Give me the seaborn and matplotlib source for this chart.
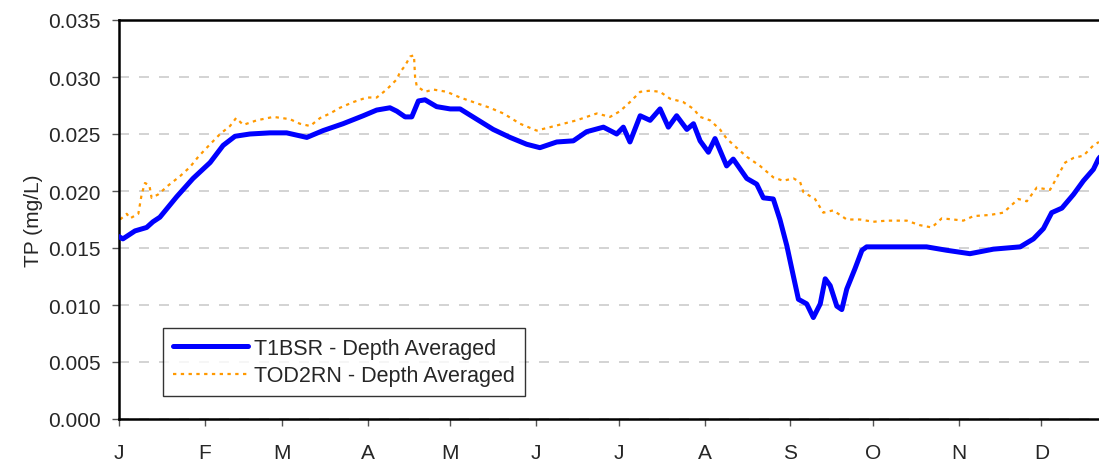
import matplotlib
matplotlib.use("Agg")
import matplotlib.pyplot as plt
import seaborn as sns
import pandas as pd
from matplotlib.ticker import FormatStrFormatter

sns.set_style("white")
plt.rcParams['font.family'] = ['Liberation Sans', 'DejaVu Sans']

# day of year / TP (mg/L)
t1bsr_day = [0, 1.4, 5.8, 10, 12.3, 14.8, 20.9, 26.8, 33, 37.7, 42, 47.4, 54.7, 60.7, 68, 73.9,
             81.1, 88.4, 93.3, 98.1, 100.6, 103.6, 106, 108.4, 110.8, 115, 119.9, 123.5, 129.5,
             135.5, 141.6, 147.6, 152.4, 158.5, 164.5, 169.3, 175.4, 180.2, 182.6, 185, 188.7,
             192.3, 195.9, 198.9, 201.9, 205.6, 208, 210.4, 213.4, 215.8, 220, 222.4, 227.3,
             230.9, 233.3, 236.9, 239.3, 241.8, 244.2, 246, 249, 251.4, 253.9, 255.7, 257.5,
             259.9, 261.7, 263.5, 266.5, 269, 270.7, 280.4, 292.4, 299.7, 308.1, 316.6, 326.3,
             331.1, 334.7, 337.7, 341.4, 345.6, 349.2, 352.8, 354.6, 356.5]
t1bsr_tp = [0.0160, 0.0158, 0.0165, 0.0168, 0.0173, 0.0177, 0.0195, 0.0211, 0.0225, 0.0240,
            0.0248, 0.0250, 0.0251, 0.0251, 0.0247, 0.0253, 0.0259, 0.0266, 0.0271, 0.0273,
            0.0270, 0.0265, 0.0265, 0.0279, 0.0280, 0.0274, 0.0272, 0.0272, 0.0263, 0.0254,
            0.0247, 0.0241, 0.0238, 0.0243, 0.0244, 0.0252, 0.0256, 0.0250, 0.0256, 0.0243,
            0.0266, 0.0262, 0.0272, 0.0256, 0.0266, 0.0254, 0.0259, 0.0244, 0.0234, 0.0246,
            0.0222, 0.0228, 0.0211, 0.0206, 0.0194, 0.0193, 0.0175, 0.0152, 0.0125, 0.0105,
            0.0101, 0.0089, 0.0101, 0.0123, 0.0117, 0.0099, 0.0096, 0.0114, 0.0132, 0.0148,
            0.0151, 0.0151, 0.0151, 0.0148, 0.0145, 0.0149, 0.0151, 0.0158, 0.0167, 0.0181,
            0.0185, 0.0197, 0.0209, 0.0219, 0.0228, 0.0234]

tod2rn_day = [0.4, 2.8, 4, 7, 8.2, 9.4, 11, 11.8, 14.2, 17.9, 22.1, 25.7, 28.7, 31.8, 36.6,
              40.2, 42.4, 45, 49.9, 55.9, 61.9, 65.5, 69.2, 72.8, 76.4, 80, 84.8, 89.7, 93.3,
              96.9, 100.6, 101.7, 103.6, 105.4, 106.8, 107.2, 107.8, 110.8, 113.8, 118.7, 123.5,
              128.3, 134.3, 139.2, 145.2, 151.2, 156.1, 160.9, 165.7, 169.3, 173, 177.8, 181.4,
              185, 188.7, 192.3, 195.9, 199.5, 204.3, 208, 210.4, 214, 217.6, 220, 223.6, 227.3,
              232.1, 236.9, 240.4, 244.2, 246.6, 247.8, 252, 255, 258.6, 263.5, 268.3, 273.1,
              278, 285.2, 290, 294.3, 297.9, 302.1, 305.7, 309.4, 315.4, 320.2, 325.6, 328.7,
              332.3, 337.1, 339.6, 342.6, 345.6, 349.2, 352.8, 354.8]
tod2rn_tp = [0.0175, 0.0180, 0.0176, 0.0180, 0.0197, 0.0207, 0.0205, 0.0194, 0.0197, 0.0205,
             0.0213, 0.0221, 0.0230, 0.0238, 0.0250, 0.0257, 0.0264, 0.0258, 0.0262, 0.0265,
             0.0263, 0.0259, 0.0257, 0.0264, 0.0268, 0.0273, 0.0278, 0.0282, 0.0282, 0.0289,
             0.0298, 0.0304, 0.0310, 0.0318, 0.0319, 0.0300, 0.0292, 0.0287, 0.0289, 0.0287,
             0.0282, 0.0278, 0.0273, 0.0268, 0.0259, 0.0253, 0.0256, 0.0259, 0.0262, 0.0265,
             0.0268, 0.0265, 0.0270, 0.0278, 0.0287, 0.0288, 0.0287, 0.0281, 0.0278, 0.0272,
             0.0265, 0.0262, 0.0254, 0.0246, 0.0238, 0.0230, 0.0222, 0.0212, 0.0209, 0.0211,
             0.0208, 0.0199, 0.0193, 0.0181, 0.0183, 0.0175, 0.0175, 0.0173, 0.0174, 0.0174,
             0.0170, 0.0168, 0.0176, 0.0175, 0.0174, 0.0178, 0.0179, 0.0181, 0.0193, 0.0191,
             0.0203, 0.0201, 0.0212, 0.0225, 0.0229, 0.0231, 0.0240, 0.0243]

month_start = [0, 31, 59, 90, 120, 151, 181, 212, 243, 273, 304, 334]
month_labels = ['J', 'F', 'M', 'A', 'M', 'J', 'J', 'A', 'S', 'O', 'N', 'D']
y_ticks = [0.000, 0.005, 0.010, 0.015, 0.020, 0.025, 0.030, 0.035]

df1 = pd.DataFrame({'day': t1bsr_day, 'tp': t1bsr_tp})
df2 = pd.DataFrame({'day': tod2rn_day, 'tp': tod2rn_tp})

fig = plt.figure(figsize=(10.99, 4.64), dpi=100)
ax = fig.add_axes([119 / 1099, 44 / 464, 986 / 1099, 399 / 464])

sns.lineplot(data=df2, x='day', y='tp', ax=ax, color='#FF9900', linewidth=1.6,
             linestyle=(0, (1.5, 2.0)), sort=False, estimator=None,
             label='TOD2RN - Depth Averaged', zorder=2)
sns.lineplot(data=df1, x='day', y='tp', ax=ax, color='#0000FF', linewidth=3.6,
             sort=False, estimator=None, label='T1BSR - Depth Averaged', zorder=3)

ax.set_xlim(0, 357)
ax.set_ylim(0, 0.035)
ax.set_xticks(month_start)
ax.set_xticklabels(month_labels)
ax.set_yticks(y_ticks)
ax.yaxis.set_major_formatter(FormatStrFormatter('%.3f'))
ax.set_xlabel('')
ax.set_ylabel('TP (mg/L)', fontsize=15, labelpad=4)
ax.tick_params(axis='both', labelsize=15, length=5, width=1, direction='out',
               bottom=True, left=True, color='#555555')
ax.tick_params(axis='x', pad=12)
ax.tick_params(axis='y', pad=8)

ax.grid(axis='y', color='#CCCCCC', linestyle=(0, (6, 6)), linewidth=1.2)
ax.set_axisbelow(True)
for side in ['left', 'bottom', 'top', 'right']:
    ax.spines[side].set_color('black')
    ax.spines[side].set_linewidth(1.8)

handles, labels = ax.get_legend_handles_labels()
leg = ax.legend(handles[::-1], labels[::-1], loc='lower left',
                bbox_to_anchor=(163 / 1099, 67 / 464), bbox_transform=fig.transFigure,
                fontsize=15.5, frameon=True, fancybox=False, edgecolor='black',
                handlelength=3.5, borderpad=0.45, labelspacing=0.3, handletextpad=0.3,
                borderaxespad=0)
leg.get_frame().set_linewidth(1.0)

fig.savefig('out.png', dpi=100)
plt.close(fig)
